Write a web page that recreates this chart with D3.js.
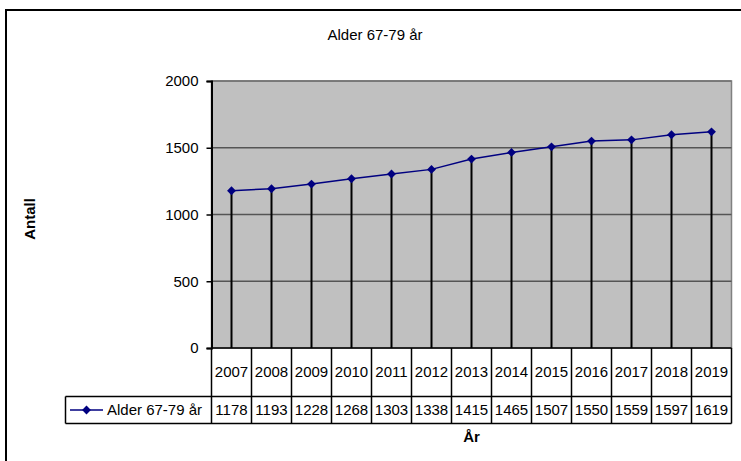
<!DOCTYPE html>
<html>
<head>
<meta charset="utf-8">
<script src="https://cdn.jsdelivr.net/npm/d3@7"></script>
<style>
  body { margin: 0; background: #fff; }
  svg text { font-family: Arial, "Liberation Sans", sans-serif; }
</style>
</head>
<body>
<div id="chart"></div>
<script>
// data
var years = ["2007","2008","2009","2010","2011","2012","2013","2014","2015","2016","2017","2018","2019"];
var values = [1178,1193,1228,1268,1303,1338,1415,1465,1507,1550,1559,1597,1619];
var yTicks = [0,500,1000,1500,2000];
var seriesName = "Alder 67-79 år";

var W = 741, H = 461;
var plotLeft = 211.5, plotRight = 731.5, plotTop = 81, plotBottom = 348;
var row1 = 396.5, row2 = 423.5, legendLeft = 65.5;
var fs = 15;

var svg = d3.select("#chart").append("svg")
  .attr("width", W).attr("height", H);

// outer chart border (runs off the right and bottom of the picture)
svg.append("rect")
  .attr("x", 6).attr("y", 10)
  .attr("width", 760).attr("height", 470)
  .attr("fill", "#fff")
  .attr("stroke", "#000").attr("stroke-width", 2);

var x = d3.scaleBand().domain(years).range([plotLeft, plotRight]).padding(0);
var y = d3.scaleLinear().domain([0, 2000]).range([plotBottom, plotTop]);

// plot area
svg.append("rect")
  .attr("x", plotLeft).attr("y", plotTop)
  .attr("width", plotRight - plotLeft).attr("height", plotBottom - plotTop)
  .attr("fill", "#c0c0c0")
  .attr("stroke", "#808080").attr("stroke-width", 1.5);

// gridlines
svg.append("g").selectAll("line").data(yTicks.filter(function(d){ return d > 0; }))
  .enter().append("line")
  .attr("x1", plotLeft).attr("x2", plotRight)
  .attr("y1", function(d){ return y(d); })
  .attr("y2", function(d){ return y(d); })
  .attr("stroke", function(d){ return d == 2000 ? "#707070" : "#555"; })
  .attr("stroke-width", 1.5);

// drop lines
svg.append("g").selectAll("line").data(values)
  .enter().append("line")
  .attr("x1", function(d,i){ return x(years[i]) + x.bandwidth()/2; })
  .attr("x2", function(d,i){ return x(years[i]) + x.bandwidth()/2; })
  .attr("y1", function(d){ return y(d); })
  .attr("y2", plotBottom)
  .attr("stroke", "#000").attr("stroke-width", 2);

// y axis
var yAxis = d3.axisLeft(y).tickValues(yTicks).tickFormat(d3.format("d"))
  .tickSize(5).tickPadding(8);
var ga = svg.append("g").attr("transform", "translate(" + plotLeft + ",0)").call(yAxis);
ga.select(".domain").attr("stroke", "#000").attr("stroke-width", 2);
ga.selectAll(".tick line").attr("stroke", "#000").attr("stroke-width", 1.5);
ga.selectAll("text").attr("font-size", fs).attr("fill", "#000")
  .attr("font-family", "Arial, 'Liberation Sans', sans-serif");

// series line
var line = d3.line()
  .x(function(d,i){ return x(years[i]) + x.bandwidth()/2; })
  .y(function(d){ return y(d); });
svg.append("path").datum(values)
  .attr("d", line)
  .attr("fill", "none")
  .attr("stroke", "#000080").attr("stroke-width", 1.5);

var diamond = d3.symbol().type(d3.symbolDiamond2).size(50);
svg.append("g").selectAll("path").data(values)
  .enter().append("path")
  .attr("d", diamond)
  .attr("transform", function(d,i){
    return "translate(" + (x(years[i]) + x.bandwidth()/2) + "," + y(d) + ")";
  })
  .attr("fill", "#000080");

// data table
var tbl = svg.append("g").attr("stroke", "#000").attr("stroke-width", 1.5);
tbl.append("line").attr("x1", plotLeft).attr("x2", plotRight).attr("y1", plotBottom).attr("y2", plotBottom);
tbl.append("line").attr("x1", legendLeft).attr("x2", plotRight).attr("y1", row1).attr("y2", row1);
tbl.append("line").attr("x1", legendLeft).attr("x2", plotRight).attr("y1", row2).attr("y2", row2);
tbl.append("line").attr("x1", legendLeft).attr("x2", legendLeft).attr("y1", row1).attr("y2", row2);
tbl.selectAll(".col").data(years.concat(["end"]))
  .enter().append("line")
  .attr("x1", function(d,i){ return plotLeft + i * x.step(); })
  .attr("x2", function(d,i){ return plotLeft + i * x.step(); })
  .attr("y1", plotBottom).attr("y2", row2);

svg.append("g").selectAll("text").data(years)
  .enter().append("text")
  .attr("x", function(d){ return x(d) + x.bandwidth()/2; })
  .attr("y", (plotBottom + row1)/2 + 5)
  .attr("text-anchor", "middle")
  .attr("font-size", fs)
  .text(function(d){ return d; });

svg.append("g").selectAll("text").data(values)
  .enter().append("text")
  .attr("x", function(d,i){ return x(years[i]) + x.bandwidth()/2; })
  .attr("y", (row1 + row2)/2 + 5)
  .attr("text-anchor", "middle")
  .attr("font-size", fs)
  .text(function(d){ return d; });

// legend key in table
var ly = (row1 + row2)/2;
svg.append("line").attr("x1", 70).attr("x2", 103).attr("y1", ly).attr("y2", ly)
  .attr("stroke", "#000080").attr("stroke-width", 1.5);
svg.append("path").attr("d", diamond)
  .attr("transform", "translate(86.5," + ly + ")")
  .attr("fill", "#000080");
svg.append("text").attr("x", 107).attr("y", ly + 5)
  .attr("font-size", fs).text(seriesName);

// titles
svg.append("text").attr("x", 375).attr("y", 40)
  .attr("text-anchor", "middle").attr("font-size", fs)
  .text(seriesName);

svg.append("text").attr("x", (plotLeft + plotRight)/2).attr("y", 442)
  .attr("text-anchor", "middle").attr("font-size", fs).attr("font-weight", "bold")
  .text("År");

svg.append("text")
  .attr("transform", "translate(35,219) rotate(-90)")
  .attr("text-anchor", "middle").attr("font-size", fs).attr("font-weight", "bold")
  .text("Antall");
</script>
</body>
</html>
